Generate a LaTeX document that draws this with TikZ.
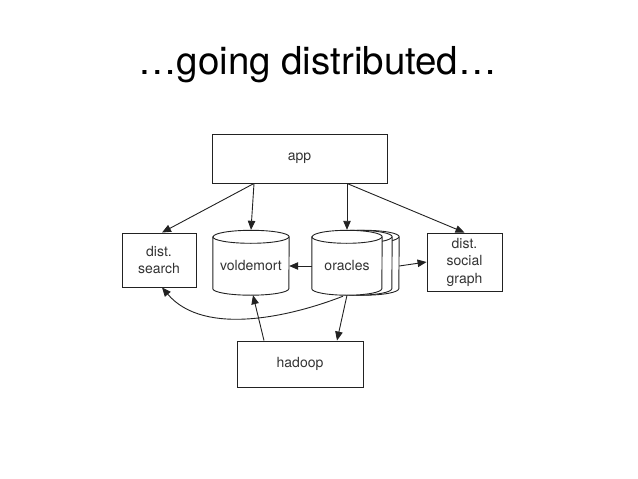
\documentclass[tikz,border=0pt]{standalone}
\usepackage{fontspec}
\setmainfont{TeX Gyre Heros}
\usetikzlibrary{
    arrows.meta,
    backgrounds
}
\definecolor{Tinta}{HTML}{222222}
\definecolor{Texto}{HTML}{333333}

\tikzset{
    conn/.style={draw=Tinta, line width=0.9pt, -{Triangle[length=9pt,width=7.5pt]}},
    dbline/.style={draw=Tinta, line width=0.9pt},
    boxnode/.style={draw=Tinta, line width=0.9pt, inner sep=0pt, align=center,
        text=Texto, font=\fontsize{14}{17.5}\selectfont},
    dbnode/.style={inner sep=0pt, minimum height=58pt, align=center,
        text=Texto, font=\fontsize{14}{17.5}\selectfont}
}

% cylinder round a node: node, x radius, shift
\newcommand\dbcyl[3]{%
    \filldraw[dbline, fill=white] ([xshift=#3]#1.north west)
        -- ([xshift=#3, yshift=6.5pt]#1.south west)
        arc[start angle=180, end angle=360, x radius=#2, y radius=6.5pt]
        -- ([xshift=#3]#1.north east)
        arc[start angle=0, end angle=180, x radius=#2, y radius=6.5pt] -- cycle;
    \draw[dbline] ([xshift=#3]#1.north west)
        arc[start angle=180, end angle=360, x radius=#2, y radius=6.5pt];
}

\begin{document}
\begin{tikzpicture}[x=1pt, y=-1pt]

    \useasboundingbox (0,0) rectangle (638,479);

    \node[anchor=base, font=\fontsize{38.5}{46}\selectfont] (title) at (317.5,74) {…going distributed…};

    \node[boxnode, minimum width=175pt, minimum height=49pt] (app) at (299.5,158.5) {app};
    \node[boxnode, minimum width=74pt, minimum height=54pt] (search) at (159,260) {dist.\\search};
    \node[dbnode, minimum width=76pt] (vold) at (251,266) {voldemort};
    \node[dbnode, minimum width=70pt] (orc) at (347,266) {oracles};
    \node[boxnode, minimum width=75pt, minimum height=58pt] (social) at (464.5,262) {dist.\\social\\graph};
    \node[boxnode, minimum width=126pt, minimum height=46pt] (hadoop) at (300,364) {hadoop};

    \begin{scope}[on background layer]
        \dbcyl{orc}{35pt}{17pt}
        \dbcyl{orc}{35pt}{10pt}
        \dbcyl{orc}{35pt}{0pt}
        \dbcyl{vold}{38pt}{0pt}
    \end{scope}

    % from app
    \draw[conn] ([xshift=-45.5pt]app.south) -- ([xshift=3pt]search.north);
    \draw[conn] ([xshift=-45.5pt]app.south) -- ([yshift=7pt]vold.north);
    \draw[conn] ([xshift=47.5pt]app.south) -- ([yshift=7pt]orc.north);
    \draw[conn] ([xshift=47.5pt]app.south) -- (social.north);

    % oracles out
    \draw[conn] (orc.west) -- (vold.east);
    \draw[conn] ([xshift=17pt]orc.east) -- (social.west);
    \draw[conn] ([xshift=-4pt, yshift=-1pt]orc.south) .. controls (295,315) and (205,338) .. ([xshift=3pt]search.south);
    \draw[conn] (orc.south) -- ([xshift=37pt]hadoop.north);

    % hadoop
    \draw[conn] ([xshift=-36pt]hadoop.north) -- ([xshift=2pt]vold.south);

\end{tikzpicture}
\end{document}
